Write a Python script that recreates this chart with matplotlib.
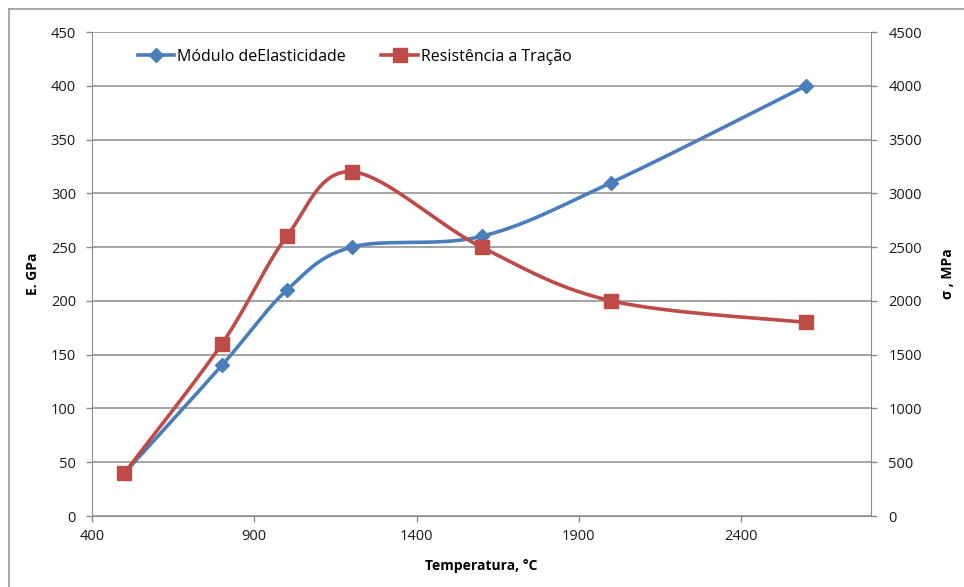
import numpy as np
import matplotlib.pyplot as plt
from matplotlib.lines import Line2D

# Dados
temperatura = [500, 800, 1000, 1200, 1600, 2000, 2600]
modulo_e = [40, 140, 210, 250, 260, 310, 400]          # GPa
resistencia = [400, 1600, 2600, 3200, 2500, 2000, 1800]  # MPa

AZUL = '#4A7EBB'
VERMELHO = '#BE4B48'
CINZA = '#8C8C8C'

plt.rcParams['font.family'] = ['Open Sans', 'DejaVu Sans']


def suavizar(x, y, n=40):
    """Curva suavizada (Bezier cúbica com tangentes tipo Catmull-Rom)."""
    p = np.column_stack([x, y]).astype(float)
    ext = np.vstack([p[0], p, p[-1]])
    t = np.linspace(0, 1, n)[:, None]
    pts = []
    for i in range(len(p) - 1):
        p0, p3 = p[i], p[i + 1]
        p1 = p0 + (ext[i + 2] - ext[i]) / 6.0
        p2 = p3 - (ext[i + 3] - ext[i + 1]) / 6.0
        seg = ((1 - t) ** 3 * p0 + 3 * (1 - t) ** 2 * t * p1
               + 3 * (1 - t) * t ** 2 * p2 + t ** 3 * p3)
        pts.append(seg if i == 0 else seg[1:])
    pts = np.vstack(pts)
    return pts[:, 0], pts[:, 1]


W, H = 964, 587
fig = plt.figure(figsize=(W / 100, H / 100), dpi=100)
fig.patch.set_facecolor('white')

# moldura do gráfico (só esquerda e topo ficam dentro da imagem)
fx, fy = 8.5 / W, 1 - 8.5 / H
fig.add_artist(Line2D([fx, fx], [0, fy], transform=fig.transFigure,
                      color='#9A9A9A', linewidth=1.2))
fig.add_artist(Line2D([fx, 1], [fy, fy], transform=fig.transFigure,
                      color='#9A9A9A', linewidth=1.2))

ax = fig.add_axes([92 / W, (H - 516) / H, (871 - 92) / W, (516 - 32) / H])
ax2 = ax.twinx()

ax.set_xlim(400, 2800)
ax.set_ylim(0, 450)
ax2.set_ylim(0, 4500)
ax.set_xticks([400, 900, 1400, 1900, 2400])
ax.set_yticks(np.arange(0, 451, 50))
ax2.set_yticks(np.arange(0, 4501, 500))

ax.grid(axis='y', color=CINZA, linewidth=1.1)
ax.set_axisbelow(True)

for a in (ax, ax2):
    for s in a.spines.values():
        s.set_visible(False)
    a.tick_params(colors=CINZA, labelcolor='#1a1a1a', labelsize=10.5,
                  length=4.5, width=1)
for side in ('left', 'bottom'):
    ax.spines[side].set_visible(True)
    ax.spines[side].set_color(CINZA)
ax2.spines['right'].set_visible(True)
ax2.spines['right'].set_color(CINZA)
ax.tick_params(axis='x', pad=5)
ax.tick_params(axis='y', pad=7)
ax2.tick_params(axis='y', pad=8)

# séries
xs, ys = suavizar(temperatura, modulo_e)
ax.plot(xs, ys, color=AZUL, linewidth=2.6, solid_capstyle='round', zorder=3)
ax.plot(temperatura, modulo_e, linestyle='none', marker='D', markersize=7,
        color=AZUL, zorder=4)

xs, ys = suavizar(temperatura, resistencia)
ax2.plot(xs, ys, color=VERMELHO, linewidth=2.6, solid_capstyle='round', zorder=3)
ax2.plot(temperatura, resistencia, linestyle='none', marker='s',
         markersize=9.5, color=VERMELHO, zorder=4)

ax.set_xlabel('Temperatura, °C', fontsize=10, fontweight='bold', labelpad=11)
ax.set_ylabel('E. GPa', fontsize=10, fontweight='bold', labelpad=8)
ax2.set_ylabel('σ , MPa', fontsize=10, fontweight='bold', labelpad=14)

# legenda
handles = [
    Line2D([], [], color=AZUL, linewidth=2.6, marker='D', markersize=7),
    Line2D([], [], color=VERMELHO, linewidth=2.6, marker='s', markersize=9.5),
]
ax.legend(handles, ['Módulo deElasticidade', 'Resistência a Tração'],
          loc='upper left', bbox_to_anchor=(0.04, 0.995), ncol=2,
          frameon=False, fontsize=11.5, handlelength=2.3, handletextpad=0.2,
          columnspacing=2.2)

fig.savefig('out.png', dpi=100)
